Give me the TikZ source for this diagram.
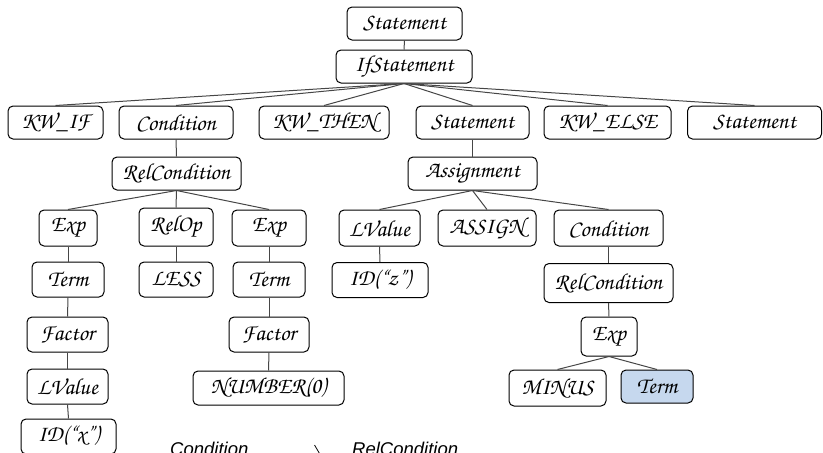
\documentclass[tikz,border=0pt]{standalone}
\usepackage[T1]{fontenc}
\usepackage{fontspec}
\setmainfont{Liberation Sans}
\usetikzlibrary{arrows.meta}
% calligraphic face for the tree labels
\newcommand{\chanc}{\fontencoding{T1}\fontfamily{pzc}\fontseries{m}\fontshape{it}\selectfont}
\definecolor{edgegray}{RGB}{70,70,70}
\definecolor{hilite}{RGB}{198,216,238}
\tikzset{
  tn/.style={draw=black, line width=1pt, rounded corners=5pt, fill=white,
    inner sep=0pt, font=\chanc\fontsize{23}{26}\selectfont},
  link/.style={draw=edgegray, line width=1pt},
  note/.style={font=\itshape\fontsize{18.5}{22}\selectfont, inner sep=0pt}
}
% \tnode{name}{x}{y}{width}{height}{label}
\newcommand{\tnode}[6]{\node[tn, minimum width=#4pt, minimum height=#5pt] (#1) at (#2,#3) {#6};}
\begin{document}
\begin{tikzpicture}[x=1pt,y=-1pt]
\useasboundingbox (0,0) rectangle (823,453);
\clip (0,0) rectangle (823,453);

% nodes of the parse tree
\tnode{st0}{404.5}{23.5}{115}{33}{Statement}
\tnode{ifs}{404}{66.5}{136}{33}{IfStatement}
\tnode{kwif}{55.5}{122.5}{95}{33}{KW\_IF}
\tnode{cond1}{176}{122.5}{114}{33}{Condition}
\tnode{kwthen}{324}{122.5}{130}{33}{KW\_THEN}
\tnode{st1}{472.5}{122.5}{113}{33}{Statement}
\tnode{kwelse}{607.5}{122.5}{127}{33}{KW\_ELSE}
\tnode{st2}{754.5}{122.5}{134}{33}{Statement}
\tnode{rel1}{176.5}{173.5}{129}{33}{RelCondition}
\tnode{asg}{472.5}{173.5}{129}{33}{Assignment}
\tnode{exp1}{68}{228}{58}{36}{Exp}
\tnode{relop}{176}{227}{74}{38}{RelOp}
\tnode{exp2}{269}{228}{74}{36}{Exp}
\tnode{lv2}{379.5}{228}{81}{36}{LValue}
\tnode{asn}{487}{228}{98}{36}{ASSIGN}
\tnode{cond2}{608.5}{228}{109}{36}{Condition}
\tnode{term1}{68}{279.5}{72}{35}{Term}
\tnode{less}{176}{279.5}{74}{35}{LESS}
\tnode{term2}{269}{279.5}{72}{35}{Term}
\tnode{idz}{380}{280}{96}{35}{ID(``z'')}
\tnode{rel2}{608.5}{283}{129}{39}{RelCondition}
\tnode{fac1}{67.5}{334.5}{81}{35}{Factor}
\tnode{fac2}{269}{334.5}{80}{35}{Factor}
\tnode{exp3}{609}{336.5}{56}{39}{Exp}
\tnode{lv1}{67.5}{386.5}{81}{35}{LValue}
\tnode{num}{268.5}{388}{151}{34}{NUMBER(0)}
\tnode{minus}{557.5}{388}{97}{36}{MINUS}
\node[tn, fill=hilite, minimum width=72pt, minimum height=33pt] (term3) at (657,386.5) {Term};
\tnode{idx}{68.5}{436.5}{95}{35}{ID(``x'')}

% connectors
\foreach \a/\b in {st0/ifs, ifs/kwif, ifs/cond1, ifs/kwthen, ifs/st1, ifs/kwelse, ifs/st2,
  cond1/rel1, rel1/exp1, rel1/relop, rel1/exp2, exp1/term1, term1/fac1, fac1/lv1, lv1/idx,
  relop/less, exp2/term2, term2/fac2, fac2/num, st1/asg, asg/lv2, asg/asn, asg/cond2,
  lv2/idz, cond2/rel2, rel2/exp3, exp3/minus, exp3/term3}
  \draw[link] (\a.south) -- (\b.north);

% production shown below the tree
\node[note, anchor=base west] (lhs) at (170,455) {Condition};
\node[note, anchor=base west] (rhs) at (352,455) {RelCondition};
\draw[line width=0.8pt, -{Straight Barb[length=7pt,width=24pt]}]
  ([xshift=18pt,yshift=-2pt]lhs.base east) -- ([xshift=-30pt,yshift=-2pt]rhs.base west);
\end{tikzpicture}
\end{document}
